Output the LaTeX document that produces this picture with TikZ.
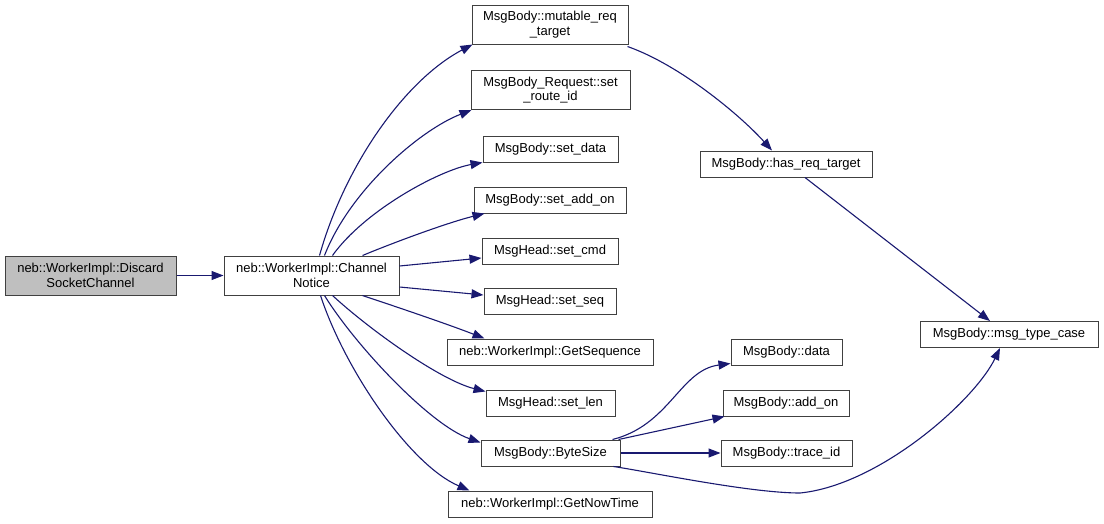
\documentclass[tikz,border=0pt]{standalone}
\usepackage{fontspec}
\setmainfont{Liberation Sans}
\usetikzlibrary{arrows.meta}
\definecolor{edgeblue}{HTML}{191970}
\definecolor{boxline}{HTML}{404040}
\definecolor{startfill}{HTML}{BFBFBF}
\begin{document}
\begin{tikzpicture}[x=1pt,y=-1pt,
  fn/.style={draw=boxline,line width=1pt,fill=white,inner sep=0pt,align=center,
    font=\fontsize{13}{14.5}\selectfont,minimum height=26pt},
  fn2/.style={fn,minimum height=39pt},
  call/.style={draw=edgeblue,line width=1.1pt,-{Triangle[length=12pt,width=9pt]}}]
\useasboundingbox (0,0) rectangle (1104,523);
% nodes
\node[fn2,fill=startfill,minimum width=171pt] (disc) at (90.5,275.5) {neb::WorkerImpl::Discard\\SocketChannel};
\node[fn2,minimum width=175pt] (cn) at (311.5,275.5) {neb::WorkerImpl::Channel\\Notice};
\node[fn2,minimum width=156pt] (mut) at (550,24.5) {MsgBody::mutable\_req\\\_target};
\node[fn2,minimum width=159pt] (route) at (550.5,90) {MsgBody\_Request::set\\\_route\_id};
\node[fn,minimum width=135pt] (sdata) at (550.5,149) {MsgBody::set\_data};
\node[fn,minimum width=152pt] (addon) at (550,200) {MsgBody::set\_add\_on};
\node[fn,minimum width=136pt] (cmd) at (550,251) {MsgHead::set\_cmd};
\node[fn,minimum width=132pt] (seq) at (550,301) {MsgHead::set\_seq};
\node[fn,minimum width=206pt] (getseq) at (550,352) {neb::WorkerImpl::GetSequence};
\node[fn,minimum width=129pt] (len) at (550.5,403) {MsgHead::set\_len};
\node[fn,minimum width=139pt] (bs) at (550.5,453) {MsgBody::ByteSize};
\node[fn,minimum width=204pt] (now) at (550,504) {neb::WorkerImpl::GetNowTime};
\node[fn,minimum width=172pt] (has) at (786,164) {MsgBody::has\_req\_target};
\node[fn,minimum width=178pt] (mtc) at (1009,334.5) {MsgBody::msg\_type\_case};
\node[fn,minimum width=111pt] (data) at (786.5,352) {MsgBody::data};
\node[fn,minimum width=126pt] (addon2) at (786,403) {MsgBody::add\_on};
\node[fn,minimum width=131pt] (trace) at (786.5,453) {MsgBody::trace\_id};
% edges
\draw[call] (disc.east) -- (cn.west);
\draw[call] ([xshift=8pt]cn.north) .. controls (345,165) and (405,80) .. ([xshift=1pt]mut.south west);
\draw[call] ([xshift=13pt]cn.north) .. controls (350,190) and (420,130) .. ([xshift=1pt]route.south west);
\draw[call] ([xshift=21pt]cn.north) .. controls (365,210) and (440,170) .. (sdata.south west);
\draw[call] ([xshift=51pt]cn.north) .. controls (400,240) and (450,222) .. ([xshift=11pt]addon.south west);
\draw[call] ([yshift=9.5pt]cn.east) -- ([yshift=-7pt]cmd.west);
\draw[call] ([yshift=-11.5pt]cn.east) -- ([yshift=6pt]seq.west);
\draw[call] ([xshift=51pt]cn.south) .. controls (400,308) and (450,325) .. ([xshift=38pt]getseq.north west);
\draw[call] ([xshift=21pt]cn.south) .. controls (370,330) and (440,380) .. ([yshift=-2pt]len.north west);
\draw[call] ([xshift=13pt]cn.south) .. controls (355,345) and (430,425) .. ([yshift=-3pt]bs.north west);
\draw[call] ([xshift=9pt]cn.south) .. controls (345,370) and (410,465) .. ([xshift=22pt]now.north west);
\draw[call] ([xshift=-1pt,yshift=-2pt]mut.south east) .. controls (680,65) and (740,115) .. ([xshift=-14pt]has.north);
\draw[call] ([xshift=19pt]has.south) -- ([xshift=-19pt]mtc.north);
\draw[call] ([xshift=-8pt]bs.north east) .. controls (670,425) and (680,370) .. ([yshift=2pt]data.south west);
\draw[call] ([xshift=-2pt]bs.north east) -- ([xshift=2pt]addon2.south west);
\draw[call] (bs.east) -- (trace.west);
\draw[call] ([xshift=-7pt]bs.south east) .. controls (650,472) and (750,493) .. (800,493)
  .. controls (880,485) and (975,400) .. ([xshift=-9pt]mtc.south);
\end{tikzpicture}
\end{document}
